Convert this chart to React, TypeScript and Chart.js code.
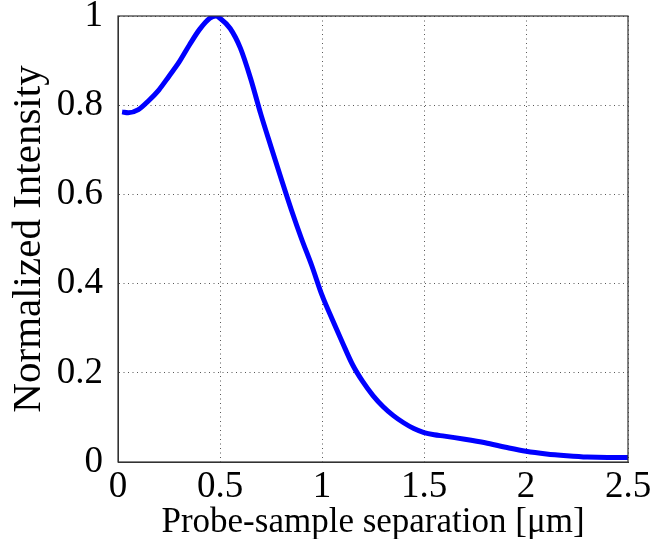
import React, { useEffect, useRef } from "react";
import { Chart, registerables } from "chart.js";

Chart.register(...registerables);

const separation = [0.02, 0.05, 0.1, 0.15, 0.2, 0.25, 0.3, 0.35, 0.4, 0.45, 0.48, 0.5, 0.55, 0.6, 0.65, 0.7, 0.75, 0.8, 0.85, 0.9, 0.95, 1.0, 1.05, 1.1, 1.15, 1.2, 1.25, 1.3, 1.35, 1.4, 1.45, 1.5, 1.55, 1.6, 1.7, 1.8, 1.9, 2.0, 2.1, 2.2, 2.3, 2.4, 2.5];
const intensity = [0.785, 0.783, 0.79, 0.81, 0.834, 0.865, 0.897, 0.935, 0.97, 0.995, 1.0, 0.995, 0.972, 0.928, 0.86, 0.78, 0.707, 0.635, 0.565, 0.5, 0.44, 0.374, 0.32, 0.268, 0.218, 0.18, 0.149, 0.124, 0.104, 0.088, 0.075, 0.066, 0.061, 0.058, 0.051, 0.043, 0.033, 0.024, 0.018, 0.014, 0.011, 0.01, 0.01];
const xTicks = [0, 0.5, 1, 1.5, 2, 2.5];
const yTicks = [0, 0.2, 0.4, 0.6, 0.8, 1];
const xTitle = "Probe-sample separation [\u03BCm]";
const yTitle = "Normalized Intensity";

const FONT = "'Liberation Serif', 'Times New Roman', serif";

const boxPlugin = {
  id: "boxBorder",
  afterDraw(chart: any) {
    const { ctx, chartArea } = chart;
    ctx.save();
    ctx.strokeStyle = "#333333";
    ctx.lineWidth = 1.2;
    ctx.strokeRect(chartArea.left, chartArea.top, chartArea.right - chartArea.left, chartArea.bottom - chartArea.top);
    ctx.restore();
  },
};

const fmt = (v: any) => String(Number(v));

export default function App() {
  const ref = useRef<HTMLCanvasElement | null>(null);
  useEffect(() => {
    if (!ref.current) return;
    const chart = new Chart(ref.current, {
      type: "line",
      data: {
        datasets: [
          {
            data: separation.map((x, i) => ({ x, y: intensity[i] })),
            borderColor: "#0000ff",
            borderWidth: 5,
            pointRadius: 0,
            cubicInterpolationMode: "monotone",
            fill: false,
          },
        ],
      },
      options: {
        animation: false,
        responsive: false,
        maintainAspectRatio: false,
        layout: { padding: { top: 16, right: 44, bottom: 0, left: 0 } },
        plugins: { legend: { display: false }, tooltip: { enabled: false } },
        scales: {
          x: {
            type: "linear",
            min: 0,
            max: 2.5,
            afterBuildTicks: (s: any) => {
              s.ticks = xTicks.map((v) => ({ value: v }));
            },
            afterFit: (s: any) => {
              s.height = 77;
              s.paddingLeft = 0;
              s.paddingRight = 0;
            },
            ticks: {
              font: { family: FONT, size: 37, lineHeight: 1.2 },
              color: "#000",
              padding: 3,
              maxRotation: 0,
              autoSkip: false,
              callback: fmt,
            },
            grid: {
              color: "rgba(70,70,70,0.9)",
              lineWidth: 1,
              drawTicks: false,
            },
            border: { display: true, color: "#333333", dash: [1, 3.5] },
            title: {
              display: true,
              text: xTitle,
              font: { family: FONT, size: 35, lineHeight: 0.9 },
              color: "#000",
              padding: 0,
            },
          },
          y: {
            type: "linear",
            min: 0,
            max: 1,
            afterBuildTicks: (s: any) => {
              s.ticks = yTicks.map((v) => ({ value: v }));
            },
            afterFit: (s: any) => {
              s.width = 118;
              s.paddingTop = 0;
              s.paddingBottom = 0;
            },
            ticks: {
              font: { family: FONT, size: 37, lineHeight: 1.2 },
              color: "#000",
              padding: 15,
              autoSkip: false,
              callback: fmt,
            },
            grid: {
              color: "rgba(70,70,70,0.9)",
              lineWidth: 1,
              drawTicks: false,
            },
            border: { display: true, color: "#333333", dash: [1, 3.5] },
            title: {
              display: true,
              text: yTitle,
              font: { family: FONT, size: 41, lineHeight: 1.2 },
              color: "#000",
              padding: { top: 5, bottom: 0 },
            },
          },
        },
      },
      plugins: [boxPlugin],
    } as any);
    return () => chart.destroy();
  }, []);
  return (
    <div style={{ position: "absolute", left: 0, top: 0, width: 672, height: 539, background: "#fff" }}>
      <canvas ref={ref} width={672} height={539} style={{ width: 672, height: 539 }} />
    </div>
  );
}
